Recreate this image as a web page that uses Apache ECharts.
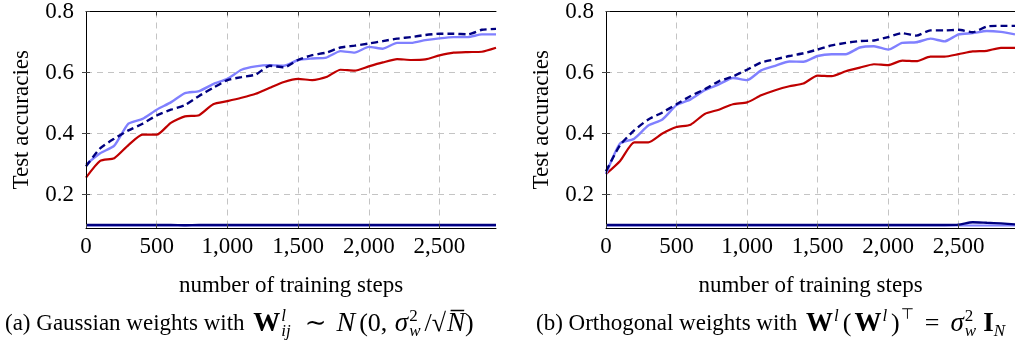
<!DOCTYPE html>
<html>
<head>
<meta charset="utf-8">
<script src="https://cdn.jsdelivr.net/npm/echarts@6/dist/echarts.min.js"></script>
<style>
  html, body { margin: 0; padding: 0; background: #fff; }
  #main { width: 1015px; height: 356px; }
</style>
</head>
<body>
<div id="main"></div>
<script>
// training steps (x) and tick values
const steps = [0, 100, 200, 300, 400, 500, 600, 700, 800, 900, 1000, 1100, 1200, 1300, 1400,
  1500, 1600, 1700, 1800, 1900, 2000, 2100, 2200, 2300, 2400, 2500, 2600, 2700, 2800, 2900];
const xTicks = [0, 500, 1000, 1500, 2000, 2500];
const xGrid = [500, 1000, 1500, 2000, 2500];
const yTicks = [0.2, 0.4, 0.6, 0.8];
const yGrid = [0.2, 0.4, 0.6];

// (a) Gaussian weights
const gaussRed = [0.255, 0.31, 0.319, 0.362, 0.396, 0.396, 0.435, 0.456, 0.46, 0.496, 0.506, 0.517, 0.53, 0.55, 0.569,
  0.579, 0.575, 0.585, 0.609, 0.606, 0.62, 0.633, 0.644, 0.641, 0.643, 0.656, 0.665, 0.667, 0.668, 0.681];
const gaussLight = [0.298, 0.335, 0.36, 0.432, 0.448, 0.478, 0.502, 0.532, 0.539, 0.562, 0.579, 0.609, 0.62, 0.624, 0.622,
  0.641, 0.646, 0.649, 0.67, 0.665, 0.684, 0.678, 0.697, 0.697, 0.706, 0.712, 0.716, 0.716, 0.725, 0.725];
const gaussDashed = [0.292, 0.351, 0.383, 0.41, 0.432, 0.459, 0.478, 0.493, 0.523, 0.55, 0.575, 0.585, 0.593, 0.622, 0.617,
  0.641, 0.657, 0.665, 0.682, 0.688, 0.695, 0.703, 0.711, 0.716, 0.723, 0.727, 0.727, 0.725, 0.74, 0.743];
const gaussFlat = [0.1, 0.1, 0.1, 0.1, 0.1, 0.1, 0.1, 0.099, 0.1, 0.1, 0.1, 0.1, 0.1, 0.1, 0.1,
  0.1, 0.1, 0.1, 0.1, 0.1, 0.1, 0.1, 0.1, 0.1, 0.1, 0.1, 0.1, 0.1, 0.1, 0.1];
const gaussFlatLight = [0.098, 0.098, 0.098, 0.098, 0.098, 0.098, 0.098, 0.098, 0.098, 0.098, 0.098, 0.098, 0.098, 0.098, 0.098,
  0.098, 0.098, 0.098, 0.098, 0.098, 0.098, 0.098, 0.098, 0.098, 0.098, 0.098, 0.098, 0.098, 0.098, 0.098];

// (b) Orthogonal weights
const orthoRed = [0.267, 0.31, 0.371, 0.371, 0.4, 0.421, 0.429, 0.464, 0.478, 0.496, 0.502, 0.525, 0.542, 0.555, 0.564,
  0.59, 0.588, 0.604, 0.616, 0.627, 0.624, 0.639, 0.637, 0.652, 0.652, 0.66, 0.669, 0.671, 0.681, 0.681];
const orthoLight = [0.267, 0.367, 0.383, 0.426, 0.446, 0.493, 0.512, 0.542, 0.561, 0.582, 0.575, 0.607, 0.622, 0.636, 0.635,
  0.654, 0.66, 0.66, 0.682, 0.686, 0.675, 0.697, 0.699, 0.711, 0.702, 0.725, 0.729, 0.736, 0.733, 0.725];
const orthoDashed = [0.276, 0.362, 0.41, 0.446, 0.469, 0.496, 0.523, 0.545, 0.571, 0.587, 0.609, 0.633, 0.643, 0.654, 0.663,
  0.675, 0.689, 0.697, 0.703, 0.705, 0.716, 0.729, 0.721, 0.738, 0.738, 0.74, 0.732, 0.751, 0.753, 0.753];
const orthoFlat = [0.1, 0.1, 0.1, 0.1, 0.1, 0.1, 0.1, 0.1, 0.1, 0.1, 0.1, 0.1, 0.1, 0.1, 0.1,
  0.1, 0.1, 0.1, 0.1, 0.1, 0.1, 0.1, 0.1, 0.1, 0.1, 0.101, 0.109, 0.107, 0.105, 0.102];
const orthoFlatLight = [0.098, 0.098, 0.098, 0.098, 0.098, 0.098, 0.098, 0.098, 0.098, 0.098, 0.098, 0.098, 0.098, 0.098, 0.098,
  0.098, 0.098, 0.098, 0.098, 0.098, 0.098, 0.098, 0.098, 0.098, 0.098, 0.098, 0.098, 0.098, 0.098, 0.098];

const SERIF = '"Liberation Serif", "DejaVu Serif", serif';
const gridDash = { color: '#c4c4c4', width: 1, type: [6, 5] };
const tickStyle = { color: '#444', width: 1 };
const frame = { show: true, lineStyle: { color: '#000', width: 1 } };

const pairs = arr => steps.map((s, i) => [s, arr[i]]);
const fmtThousands = v => String(v).replace(/\B(?=(\d{3})+(?!\d))/g, ',');

function bottomAxis(gi) {
  return {
    type: 'value', gridIndex: gi, position: 'bottom', min: 0, max: 2900, z: 3,
    name: 'number of training steps', nameLocation: 'middle', nameGap: 46,
    nameTextStyle: { fontFamily: SERIF, fontSize: 23, color: '#000' },
    axisLine: frame,
    axisTick: { show: true, inside: true, length: 4, customValues: xTicks, lineStyle: tickStyle },
    axisLabel: { customValues: xTicks, formatter: fmtThousands, fontFamily: SERIF, fontSize: 23, color: '#000', margin: 7 },
    splitLine: { show: false }
  };
}
function topAxis(gi) {
  // mirrored ticks + vertical grid lines
  return {
    type: 'value', gridIndex: gi, position: 'top', min: 0, max: 2900, z: 0,
    axisLine: frame,
    axisTick: { show: true, inside: true, length: 4, customValues: xGrid, lineStyle: tickStyle },
    axisLabel: { show: false },
    splitLine: { show: true, lineStyle: gridDash }
  };
}
function leftAxis(gi) {
  return {
    type: 'value', gridIndex: gi, position: 'left', min: 0.09, max: 0.8, z: 3,
    name: 'Test accuracies', nameLocation: 'middle', nameGap: 53,
    nameTextStyle: { fontFamily: SERIF, fontSize: 23, color: '#000' },
    axisLine: frame,
    axisTick: { show: true, inside: true, length: 4, customValues: yTicks, lineStyle: tickStyle },
    axisLabel: { customValues: yTicks, formatter: v => v.toFixed(1), fontFamily: SERIF, fontSize: 23, color: '#000', margin: 12 },
    splitLine: { show: false }
  };
}
function rightAxis(gi) {
  // mirrored ticks + horizontal grid lines
  return {
    type: 'value', gridIndex: gi, position: 'right', min: 0.09, max: 0.8, z: 0,
    axisLine: frame,
    axisTick: { show: true, inside: true, length: 4, customValues: yGrid, lineStyle: tickStyle },
    axisLabel: { show: false },
    splitLine: { show: true, lineStyle: gridDash }
  };
}

function panelSeries(gi, red, light, dashed, flat, flatLight) {
  const base = { type: 'line', xAxisIndex: gi * 2, yAxisIndex: gi * 2, symbol: 'none', smooth: 0.2, animation: false, clip: true, z: 2 };
  return [
    Object.assign({}, base, { name: 'flat light', data: pairs(flatLight), lineStyle: { color: '#8080ff', width: 2 } }),
    Object.assign({}, base, { name: 'flat', data: pairs(flat), lineStyle: { color: '#000080', width: 2.4 } }),
    Object.assign({}, base, { name: 'red', data: pairs(red), lineStyle: { color: '#bf0000', width: 2.2 } }),
    Object.assign({}, base, { name: 'light', data: pairs(light), lineStyle: { color: '#8080ff', width: 2.4 } }),
    Object.assign({}, base, { name: 'dashed', data: pairs(dashed), lineStyle: { color: '#000080', width: 2.4, type: [7, 4] } })
  ];
}

// caption rich-text styles (math approximated with sub/superscripts)
const capRich = {
  r: { fontFamily: SERIF, fontSize: 23, color: '#000', lineHeight: 32, align: 'left' },
  m: { fontFamily: SERIF, fontSize: 26, color: '#000', lineHeight: 32, align: 'left' },
  rel: { fontFamily: SERIF, fontSize: 26, color: '#000', lineHeight: 32, align: 'left', padding: [0, 10, 0, 10] },
  b: { fontFamily: SERIF, fontSize: 27, fontWeight: 'bold', color: '#000', lineHeight: 32, align: 'left', padding: [0, 0, 0, 3] },
  i: { fontFamily: SERIF, fontSize: 27, fontStyle: 'italic', color: '#000', lineHeight: 32, align: 'left', padding: [0, 0, 0, 1] },
  cal: { fontFamily: SERIF, fontSize: 28, fontStyle: 'italic', color: '#000', lineHeight: 32, align: 'left', padding: [0, 4, 0, 0] },
  sup: { fontFamily: SERIF, fontSize: 17, fontStyle: 'italic', color: '#000', verticalAlign: 'top', align: 'left', padding: [0, 4, 0, 1] },
  supz: { fontFamily: SERIF, fontSize: 17, fontStyle: 'italic', color: '#000', verticalAlign: 'top', align: 'left', width: 0, padding: [0, 0, 0, 1] },
  supr: { fontFamily: SERIF, fontSize: 17, color: '#000', verticalAlign: 'top', align: 'left', width: 0, padding: [0, 0, 0, 1] },
  sups: { fontFamily: '"DejaVu Sans", sans-serif', fontSize: 15, color: '#000', verticalAlign: 'top', align: 'left', padding: [0, 1, 0, 1] },
  sub: { fontFamily: SERIF, fontSize: 17, fontStyle: 'italic', color: '#000', verticalAlign: 'bottom', align: 'left', padding: [0, 4, 0, 0] }
};

const chart = echarts.init(document.getElementById('main'), null, { renderer: 'canvas' });
chart.setOption({
  animation: false,
  backgroundColor: '#fff',
  grid: [
    { left: 86, top: 7, width: 410, height: 221 },
    { left: 606, top: 7, width: 409, height: 221 }
  ],
  xAxis: [bottomAxis(0), topAxis(0), bottomAxis(1), topAxis(1)],
  yAxis: [leftAxis(0), rightAxis(0), leftAxis(1), rightAxis(1)],
  series: [].concat(
    panelSeries(0, gaussRed, gaussLight, gaussDashed, gaussFlat, gaussFlatLight),
    panelSeries(1, orthoRed, orthoLight, orthoDashed, orthoFlat, orthoFlatLight)
  ),
  graphic: [
    {
      type: 'text', left: 5, top: 308,
      style: {
        text: '{r|(a) Gaussian weights with }{b|W}{supz|l}{sub|ij}{rel|∼}{cal|N}{m|(0, }{i|σ}{supr|2}{sub|w}{m|/√}{i|N̅}{m|)}',
        rich: capRich
      }
    },
    {
      type: 'text', right: 10, top: 308,
      style: {
        text: '{r|(b) Orthogonal weights with }{b|W}{sup|l}{m|(}{b|W}{sup|l}{m|)}{sups|⊤}{rel|=}{i|σ}{supr|2}{sub|w}{b|I}{sub|N}',
        rich: capRich
      }
    }
  ]
});
</script>
</body>
</html>
